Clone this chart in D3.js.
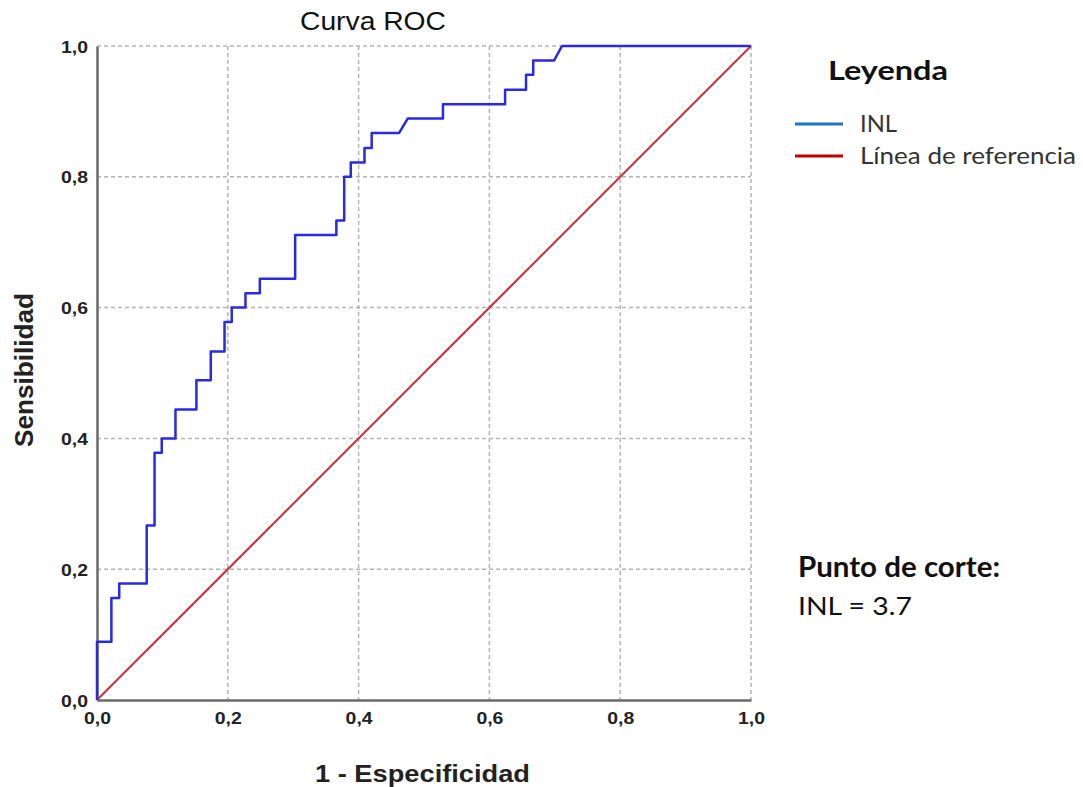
<!DOCTYPE html>
<html>
<head>
<meta charset="utf-8">
<script src="https://cdn.jsdelivr.net/npm/d3@7"></script>
<style>
  body { margin: 0; background: #fff; }
  svg { display: block; }
</style>
</head>
<body>
<svg id="chart"></svg>
<script>
// curva ROC (1 - especificidad, sensibilidad)
var fpr = [0, 0, 0.022, 0.022, 0.034, 0.034, 0.076, 0.076, 0.088, 0.088, 0.099, 0.099,
    0.12, 0.12, 0.152, 0.152, 0.174, 0.174, 0.195, 0.195, 0.206, 0.206, 0.227, 0.227,
    0.249, 0.249, 0.303, 0.303, 0.366, 0.366, 0.378, 0.378, 0.388, 0.388, 0.409, 0.409,
    0.42, 0.42, 0.462, 0.475, 0.529, 0.529, 0.624, 0.624, 0.656, 0.656, 0.667, 0.667,
    0.699, 0.711, 1];
var tpr = [0, 0.089, 0.089, 0.156, 0.156, 0.178, 0.178, 0.267, 0.267, 0.378, 0.378, 0.4,
    0.4, 0.444, 0.444, 0.489, 0.489, 0.533, 0.533, 0.578, 0.578, 0.6, 0.6, 0.622,
    0.622, 0.644, 0.644, 0.711, 0.711, 0.733, 0.733, 0.8, 0.8, 0.822, 0.822, 0.844,
    0.844, 0.867, 0.867, 0.889, 0.889, 0.911, 0.911, 0.933, 0.933, 0.956, 0.956, 0.978,
    0.978, 1, 1];
var refLine = [0, 1];
var ticks = [0, 0.2, 0.4, 0.6, 0.8, 1.0];
var legendItems = ["INL", "Línea de referencia"];
var legendColors = ["#1f72c8", "#c00000"];

var W = 1083, H = 787;
var margin = { top: 46, right: 332, bottom: 87, left: 97 },
    width = W - margin.left - margin.right,
    height = H - margin.top - margin.bottom;

var arial = "Liberation Sans, Arial, sans-serif",
    calibri = "Lato, Open Sans, sans-serif";

var svg = d3.select("#chart")
    .attr("width", W)
    .attr("height", H);

var g = svg.append("g")
    .attr("transform", "translate(" + margin.left + "," + margin.top + ")");

var x = d3.scaleLinear().domain([0, 1]).range([0, width]);
var y = d3.scaleLinear().domain([0, 1]).range([height, 0]);

var fmt = function(d) { return d3.format(".1f")(d).replace(".", ","); };

// rejilla
g.append("g")
    .selectAll("line")
    .data(ticks.slice(1))
    .enter().append("line")
    .attr("x1", function(d) { return x(d); })
    .attr("x2", function(d) { return x(d); })
    .attr("y1", 0)
    .attr("y2", height)
    .attr("stroke", "#b4b4b4")
    .attr("stroke-width", 1.5)
    .attr("stroke-dasharray", "4,3");

g.append("g")
    .selectAll("line")
    .data(ticks.slice(1))
    .enter().append("line")
    .attr("x1", 0)
    .attr("x2", width)
    .attr("y1", function(d) { return y(d); })
    .attr("y2", function(d) { return y(d); })
    .attr("stroke", "#b4b4b4")
    .attr("stroke-width", 1.5)
    .attr("stroke-dasharray", "4,3");

// ejes
var xAxis = g.append("g")
    .attr("transform", "translate(0," + height + ")")
    .call(d3.axisBottom(x).tickValues(ticks).tickFormat(fmt).tickSize(0).tickPadding(12));
var yAxis = g.append("g")
    .call(d3.axisLeft(y).tickValues(ticks).tickFormat(fmt).tickSize(0).tickPadding(9));

[xAxis, yAxis].forEach(function(a) {
    a.select(".domain").attr("stroke", "#6a6a6a").attr("stroke-width", 2.5);
    a.selectAll("text")
        .attr("font-family", arial)
        .attr("font-size", 17)
        .attr("font-weight", "bold")
        .attr("fill", "#222")
        .attr("textLength", 27)
        .attr("lengthAdjust", "spacingAndGlyphs");
});
yAxis.selectAll("text").attr("dy", "0.36em");

// linea de referencia
g.append("path")
    .datum(refLine)
    .attr("fill", "none")
    .attr("stroke", "#c8323c")
    .attr("stroke-width", 2)
    .attr("d", d3.line().x(function(d) { return x(d); }).y(function(d) { return y(d); }));

// curva ROC
g.append("path")
    .datum(d3.range(fpr.length))
    .attr("fill", "none")
    .attr("stroke", "#2a2ae0")
    .attr("stroke-width", 2.5)
    .attr("stroke-linejoin", "round")
    .attr("d", d3.line()
        .x(function(i) { return x(fpr[i]); })
        .y(function(i) { return y(tpr[i]); }));

function label(sel, opts) {
    var t = sel.append("text")
        .attr("font-family", opts.family)
        .attr("font-size", opts.size)
        .attr("font-weight", opts.weight || "normal")
        .attr("fill", opts.fill || "#111")
        .text(opts.text);
    if (opts.len) t.attr("textLength", opts.len).attr("lengthAdjust", "spacingAndGlyphs");
    return t;
}

// titulos
label(svg, { family: arial, size: 25, text: "Curva ROC", len: 146 })
    .attr("x", 300).attr("y", 30);

label(svg, { family: arial, size: 24, weight: "bold", fill: "#222", text: "1 - Especificidad", len: 215 })
    .attr("x", 315).attr("y", 782);

label(svg, { family: arial, size: 25, weight: "bold", fill: "#222", text: "Sensibilidad", len: 154 })
    .attr("transform", "translate(33,447) rotate(-90)");

// leyenda
label(svg, { family: calibri, size: 27, weight: "bold", text: "Leyenda", len: 120 })
    .attr("x", 828).attr("y", 80);

var leg = svg.append("g")
    .selectAll("g")
    .data(legendItems)
    .enter().append("g")
    .attr("transform", function(d, i) { return "translate(795," + (124 + i * 32) + ")"; });

leg.append("line")
    .attr("x1", 0).attr("x2", 48)
    .attr("stroke", function(d, i) { return legendColors[i]; })
    .attr("stroke-width", 3);

leg.append("text")
    .attr("x", 65)
    .attr("dy", "0.36em")
    .attr("font-family", calibri)
    .attr("font-size", 23)
    .attr("fill", "#333")
    .attr("textLength", function(d, i) { return i === 0 ? 37 : 216; })
    .attr("lengthAdjust", "spacingAndGlyphs")
    .text(function(d) { return d; });

// punto de corte
label(svg, { family: calibri, size: 29, weight: "bold", text: "Punto de corte:", len: 202 })
    .attr("x", 798).attr("y", 577);

label(svg, { family: calibri, size: 25, text: "INL = 3.7", len: 114 })
    .attr("x", 798).attr("y", 615);
</script>
</body>
</html>
